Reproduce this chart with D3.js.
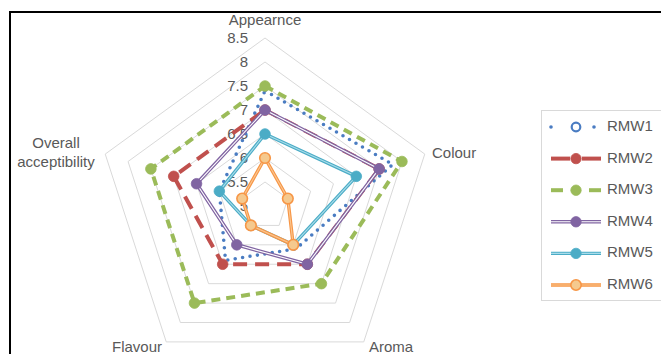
<!DOCTYPE html>
<html>
<head>
<meta charset="utf-8">
<script src="https://cdn.jsdelivr.net/npm/d3@7/dist/d3.min.js"></script>
<style>
  html, body { margin: 0; padding: 0; background: #fff; }
  svg { display: block; }
  text { font-family: "Liberation Sans", Arial, sans-serif; fill: #595959; }
</style>
</head>
<body>
<svg id="chart" width="661" height="354"></svg>
<script>
// Sensory attributes (radar axes, clockwise from the top)
const attributes = ["Appearnce", "Colour", "Aroma", "Flavour", "Overall acceptibility"];

// Mean scores per sample, in attribute order
const RMW1 = [7.4, 7.8, 6.1, 6.4, 6.0];
const RMW2 = [7.0, 7.5, 6.5, 6.5, 7.0];
const RMW3 = [7.5, 8.0, 7.0, 7.5, 7.5];
const RMW4 = [7.0, 7.5, 6.5, 6.0, 6.5];
const RMW5 = [6.5, 7.0, 6.0, 5.5, 6.0];
const RMW6 = [6.0, 5.5, 6.0, 5.5, 5.5];

const seriesNames = ["RMW1", "RMW2", "RMW3", "RMW4", "RMW5", "RMW6"];
const seriesValues = [RMW1, RMW2, RMW3, RMW4, RMW5, RMW6];

// Value axis ticks
const tickValues = [5, 5.5, 6, 6.5, 7, 7.5, 8, 8.5];

// Per-series drawing style
const styles = {
  RMW1: { color: "#4A7CC2", width: 3.6, dash: "0 7.5", cap: "round", inner: null, marker: "none", legendMarker: "open" },
  RMW2: { color: "#C0504D", width: 4, dash: "14 8", cap: "butt", inner: null, marker: "fill", fill: "#C0504D" },
  RMW3: { color: "#9BBB59", width: 4, dash: "9 6", cap: "butt", inner: null, marker: "fill", fill: "#9BBB59" },
  RMW4: { color: "#8064A2", width: 3.6, dash: null, cap: "butt", inner: "#ffffff", innerWidth: 1.1, marker: "fill", fill: "#8064A2" },
  RMW5: { color: "#4BACC6", width: 3.4, dash: null, cap: "butt", inner: "#A9DCEA", innerWidth: 1.1, marker: "fill", fill: "#4BACC6" },
  RMW6: { color: "#F79646", width: 3.4, dash: null, cap: "butt", inner: "#FAC792", innerWidth: 1.1, marker: "fill", fill: "#F5C98E", stroke: "#F79646" }
};

const svg = d3.select("#chart");
const cx = 265, cy = 206;
const r = d3.scaleLinear().domain([5, 8.5]).range([0, 168]);
const angle = i => i * 2 * Math.PI / attributes.length;

const plot = svg.append("g").attr("transform", `translate(${cx},${cy})`);

// Concentric pentagon gridlines
const ringLine = d3.lineRadial()
  .angle((d, i) => angle(i))
  .radius(d => r(d))
  .curve(d3.curveLinearClosed);

plot.append("g").selectAll("path")
  .data(tickValues.slice(1))
  .join("path")
  .attr("d", v => ringLine(attributes.map(() => v)))
  .attr("fill", "none")
  .attr("stroke", "#D9D9D9")
  .attr("stroke-width", 1);

// Value axis labels along the top spoke
plot.append("g").selectAll("text")
  .data(tickValues)
  .join("text")
  .attr("x", -17)
  .attr("y", v => -r(v) + 1)
  .attr("text-anchor", "end")
  .attr("dominant-baseline", "middle")
  .style("font-size", "15px")
  .text(v => v);

// Series polygons and markers
const seriesLine = d3.lineRadial()
  .angle((d, i) => angle(i))
  .radius(d => r(d))
  .curve(d3.curveLinearClosed);

seriesNames.forEach((name, si) => {
  const st = styles[name];
  const vals = seriesValues[si];
  const g = plot.append("g");
  g.append("path")
    .attr("d", seriesLine(vals))
    .attr("fill", "none")
    .attr("stroke", st.color)
    .attr("stroke-width", st.width)
    .attr("stroke-linejoin", "round")
    .attr("stroke-linecap", st.cap)
    .attr("stroke-dasharray", st.dash);
  if (st.inner) {
    g.append("path")
      .attr("d", seriesLine(vals))
      .attr("fill", "none")
      .attr("stroke", st.inner)
      .attr("stroke-width", st.innerWidth)
      .attr("stroke-linejoin", "round");
  }
  if (st.marker === "fill") {
    g.selectAll("circle")
      .data(vals)
      .join("circle")
      .attr("cx", (d, i) => d3.pointRadial(angle(i), r(d))[0])
      .attr("cy", (d, i) => d3.pointRadial(angle(i), r(d))[1])
      .attr("r", 5.3)
      .attr("fill", st.fill)
      .attr("stroke", st.stroke || st.fill)
      .attr("stroke-width", st.stroke ? 1.6 : 0.8);
  }
});

// Category labels around the chart
const catLabels = [
  { lines: ["Appearnce"], x: 265, y: 25, anchor: "middle" },
  { lines: ["Colour"], x: 432, y: 158, anchor: "start" },
  { lines: ["Aroma"], x: 369, y: 352, anchor: "start" },
  { lines: ["Flavour"], x: 162, y: 352, anchor: "end" },
  { lines: ["Overall", "acceptibility"], x: 56, y: 148, anchor: "middle" }
];
catLabels.forEach((c, i) => {
  const t = svg.append("text")
    .attr("x", c.x).attr("y", c.y)
    .attr("text-anchor", c.anchor)
    .style("font-size", "15px");
  c.lines.forEach((ln, j) => {
    t.append("tspan").attr("x", c.x).attr("dy", j === 0 ? 0 : 19).text(ln);
  });
});

// Legend
const legend = svg.append("g");
legend.append("rect")
  .attr("x", 541.5).attr("y", 110.5)
  .attr("width", 140).attr("height", 190)
  .attr("fill", "#fff")
  .attr("stroke", "#D9D9D9");

const legendY = d3.scalePoint().domain(seriesNames).range([127, 285]);
seriesNames.forEach(name => {
  const st = styles[name];
  const y = legendY(name);
  const item = legend.append("g");
  let segs;
  if (name === "RMW1") segs = [[551, 558], [594, 601]];
  else if (name === "RMW2") segs = [[551, 570], [582, 601]];
  else if (name === "RMW3") segs = [[551, 563], [589, 601]];
  else segs = [[551, 601]];
  segs.forEach(([a, b]) => {
    item.append("path")
      .attr("d", d3.line()([[a, y], [b, y]]))
      .attr("stroke", st.color)
      .attr("stroke-width", st.width)
      .attr("stroke-linecap", name === "RMW1" ? "round" : "butt")
      .attr("stroke-dasharray", name === "RMW1" ? "0 7" : null);
    if (st.inner) {
      item.append("path")
        .attr("d", d3.line()([[a, y], [b, y]]))
        .attr("stroke", st.inner)
        .attr("stroke-width", st.innerWidth);
    }
  });
  if (st.legendMarker === "open") {
    item.append("circle").attr("cx", 576).attr("cy", y).attr("r", 4.3)
      .attr("fill", "#fff").attr("stroke", st.color).attr("stroke-width", 2.2);
  } else {
    item.append("circle").attr("cx", 576).attr("cy", y).attr("r", 5.2)
      .attr("fill", st.fill).attr("stroke", st.stroke || st.fill)
      .attr("stroke-width", st.stroke ? 1.6 : 0.8);
  }
  item.append("text")
    .attr("x", 607).attr("y", y)
    .attr("dominant-baseline", "middle")
    .style("font-size", "15px")
    .text(name);
});

// Frame lines along the top and left edges
svg.append("path")
  .attr("d", "M10,354 V12 H661")
  .attr("fill", "none")
  .attr("stroke", "#000")
  .attr("stroke-width", 2);
</script>
</body>
</html>
